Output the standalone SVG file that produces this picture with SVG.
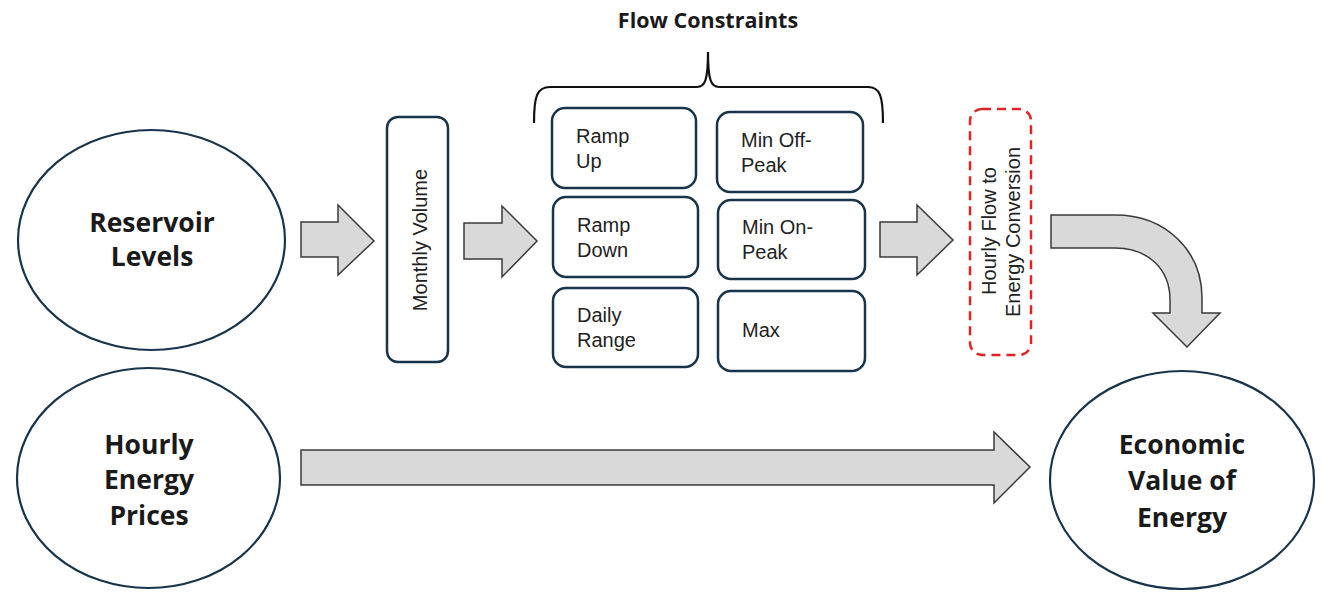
<svg xmlns="http://www.w3.org/2000/svg" width="1322" height="592" viewBox="0 0 1322 592">
<style>
.ell{fill:#fff;stroke:#17344a;stroke-width:2.2}
.box{fill:#fff;stroke:#17344a;stroke-width:2.5}
.dash{fill:#fff;stroke:#e02424;stroke-width:2.5;stroke-dasharray:9 6}
.arr{fill:#d9d9d9;stroke:#3a3a3a;stroke-width:1.5;stroke-linejoin:miter}
.big{font-family:"Open Sans","Liberation Sans",sans-serif;font-weight:bold;font-size:26.5px;fill:#1a1a1a;text-anchor:middle}
.ttl{font-family:"Open Sans","Liberation Sans",sans-serif;font-weight:bold;font-size:21.5px;fill:#1a1a1a;text-anchor:middle}
.lbl{font-family:"Liberation Sans",Arial,sans-serif;font-size:20px;fill:#222}
.rot{font-family:"Liberation Sans",Arial,sans-serif;font-size:20px;fill:#222;text-anchor:middle}
.brace{fill:none;stroke:#111;stroke-width:2.2}
</style>
<rect width="1322" height="592" fill="#fff"/>

<g id="connectors">
  <path class="arr" d="M301,222 L338,222 L338,205 L374,241 L338,275 L338,257 L301,257 Z"/>
  <path class="arr" d="M464,223 L502,223 L502,206 L537,241 L502,277 L502,259 L464,259 Z"/>
  <path class="arr" d="M880,222 L917,222 L917,205 L953,240 L917,275 L917,257 L880,257 Z"/>
  <path class="arr" d="M1051,215 L1115,215 C1165,215 1202,250 1202,298 L1202,313 L1220,313 L1187,347 L1153,313 L1170,313 L1170,300 C1170,268 1147,248 1115,248 L1051,248 Z"/>
  <path class="arr" d="M301,450 L994,450 L994,432 L1030,467 L994,503 L994,485 L301,485 Z"/>
</g>

<g id="brace">
  <text class="ttl" x="708" y="28">Flow Constraints</text>
  <path class="brace" d="M534,123 C534,96 537,87 550,87 L697,87 C705,87 708,80 708,52 C708,80 711,87 719,87 L868,87 C880,87 883,96 883,123"/>
</g>

<g id="reservoir">
  <ellipse class="ell" cx="151.5" cy="240" rx="133.5" ry="110"/>
  <text class="big" x="152" y="232">Reservoir</text>
  <text class="big" x="152" y="266">Levels</text>
</g>

<g id="prices">
  <ellipse class="ell" cx="148.5" cy="478" rx="131.5" ry="110"/>
  <text class="big" x="149" y="454">Hourly</text>
  <text class="big" x="149" y="489">Energy</text>
  <text class="big" x="149" y="525">Prices</text>
</g>

<g id="economic">
  <ellipse class="ell" cx="1182" cy="480" rx="132" ry="109"/>
  <text class="big" x="1182" y="454">Economic</text>
  <text class="big" x="1182" y="490">Value of</text>
  <text class="big" x="1182" y="527">Energy</text>
</g>

<g id="monthly">
  <rect class="box" x="387" y="117" width="61" height="245" rx="11"/>
  <text class="rot" transform="translate(427,240) rotate(-90)">Monthly Volume</text>
</g>

<g id="rampup">
  <rect class="box" x="552" y="108" width="144" height="80" rx="13"/>
  <text class="lbl" x="576" y="143">Ramp</text>
  <text class="lbl" x="576" y="168">Up</text>
</g>
<g id="minoffpeak">
  <rect class="box" x="717" y="112" width="146" height="80" rx="13"/>
  <text class="lbl" x="741" y="147">Min Off-</text>
  <text class="lbl" x="741" y="172">Peak</text>
</g>
<g id="rampdown">
  <rect class="box" x="553" y="197" width="145" height="80" rx="13"/>
  <text class="lbl" x="577" y="232">Ramp</text>
  <text class="lbl" x="577" y="257">Down</text>
</g>
<g id="minonpeak">
  <rect class="box" x="718" y="200" width="147" height="79" rx="13"/>
  <text class="lbl" x="742" y="234">Min On-</text>
  <text class="lbl" x="742" y="259">Peak</text>
</g>
<g id="dailyrange">
  <rect class="box" x="553" y="288" width="145" height="79" rx="13"/>
  <text class="lbl" x="577" y="322">Daily</text>
  <text class="lbl" x="577" y="347">Range</text>
</g>
<g id="max">
  <rect class="box" x="718" y="291" width="147" height="80" rx="13"/>
  <text class="lbl" x="742" y="337">Max</text>
</g>

<g id="hourlyflow">
  <rect class="dash" x="970" y="109" width="61" height="246" rx="12"/>
  <text class="rot" transform="translate(996,231) rotate(-90)">Hourly Flow to</text>
  <text class="rot" transform="translate(1020,232) rotate(-90)">Energy Conversion</text>
</g>
</svg>
